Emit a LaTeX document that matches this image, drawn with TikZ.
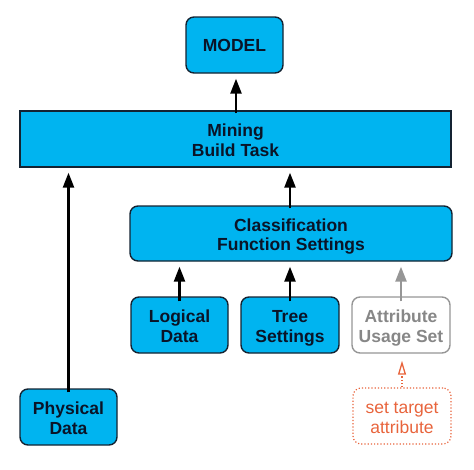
\documentclass[tikz,border=0pt]{standalone}
\usepackage{fontspec}
\setmainfont{Liberation Sans}
\usetikzlibrary{arrows.meta}
\definecolor{boxfill}{RGB}{0,180,240}
\definecolor{boxdraw}{RGB}{20,35,50}
\definecolor{textdark}{RGB}{10,20,40}
\definecolor{grayline}{RGB}{150,150,150}
\definecolor{orangeline}{RGB}{232,100,60}
\newcommand\topstr{\rule{0pt}{18.9pt}}
\newcommand\botstr{\rule[-4pt]{0pt}{4pt}}
\tikzset{
  blue box/.style={draw=boxdraw, fill=boxfill, line width=1.4pt, rounded corners=8pt,
    align=center, font=\fontsize{17.5}{19.5}\selectfont\bfseries, text=textdark, inner sep=0pt},
  gray box/.style={draw=grayline, fill=white, line width=1.4pt, rounded corners=8pt,
    align=center, font=\fontsize{17.5}{19.5}\selectfont\bfseries, text=grayline!90!black, inner sep=0pt},
  orange box/.style={draw=orangeline, dotted, line width=1.2pt, rounded corners=8pt,
    align=center, font=\fontsize{17.5}{19.5}\selectfont, text=orangeline, inner sep=0pt},
  arr/.style={line width=2.5pt, -{Triangle[length=15pt,width=11pt]}, shorten >=5pt},
  grayarr/.style={arr, draw=grayline, color=grayline},
  orangearr/.style={draw=orangeline, dotted, line width=1.3pt, -{Triangle[open,length=14pt,width=8pt]}, shorten >=7pt},
}
\begin{document}
\begin{tikzpicture}[x=1pt,y=-1pt]
\useasboundingbox (0,0) rectangle (474,469);
\node[blue box, minimum width=97pt, minimum height=56pt] (model) at (234.5,45) {MODEL};
\node[blue box, rounded corners=0pt, minimum width=431pt, minimum height=56pt] (mining) at (235.5,139) {\topstr Mining\\Build Task\botstr};
\node[blue box, minimum width=322pt, minimum height=55pt] (class) at (291,233.5) {\topstr Classification\\Function Settings\botstr};
\node[blue box, minimum width=97pt, minimum height=56pt] (logical) at (179.5,325) {\topstr Logical\\Data\botstr};
\node[blue box, minimum width=98pt, minimum height=56pt] (tree) at (290,325) {\topstr Tree\\Settings\botstr};
\node[gray box, minimum width=98pt, minimum height=56pt] (attr) at (401,325) {\topstr Attribute\\Usage Set\botstr};
\node[blue box, minimum width=97pt, minimum height=56pt] (phys) at (68.5,417) {\topstr Physical\\Data\botstr};
\node[orange box, minimum width=98pt, minimum height=56pt] (target) at (402,416) {\topstr set target\\attribute\botstr};

\coordinate (m0) at ([xshift=1.5pt,yshift=-3pt]mining.north -| model.south);
\draw[arr] (m0) -- (model.south -| m0);
\draw[arr] ([yshift=-4pt]phys.north) -- (phys.north |- mining.south);
\draw[arr] ([yshift=-3pt]class.north -| tree.north) -- (tree.north |- mining.south);
\draw[arr] ([yshift=-5pt]logical.north) -- (logical.north |- class.south);
\draw[arr] ([yshift=-5pt]tree.north) -- (tree.north |- class.south);
\draw[grayarr] ([yshift=-5pt]attr.north) -- (attr.north |- class.south);
\draw[orangearr] (target.north) -- (target.north |- attr.south);
\end{tikzpicture}
\end{document}
